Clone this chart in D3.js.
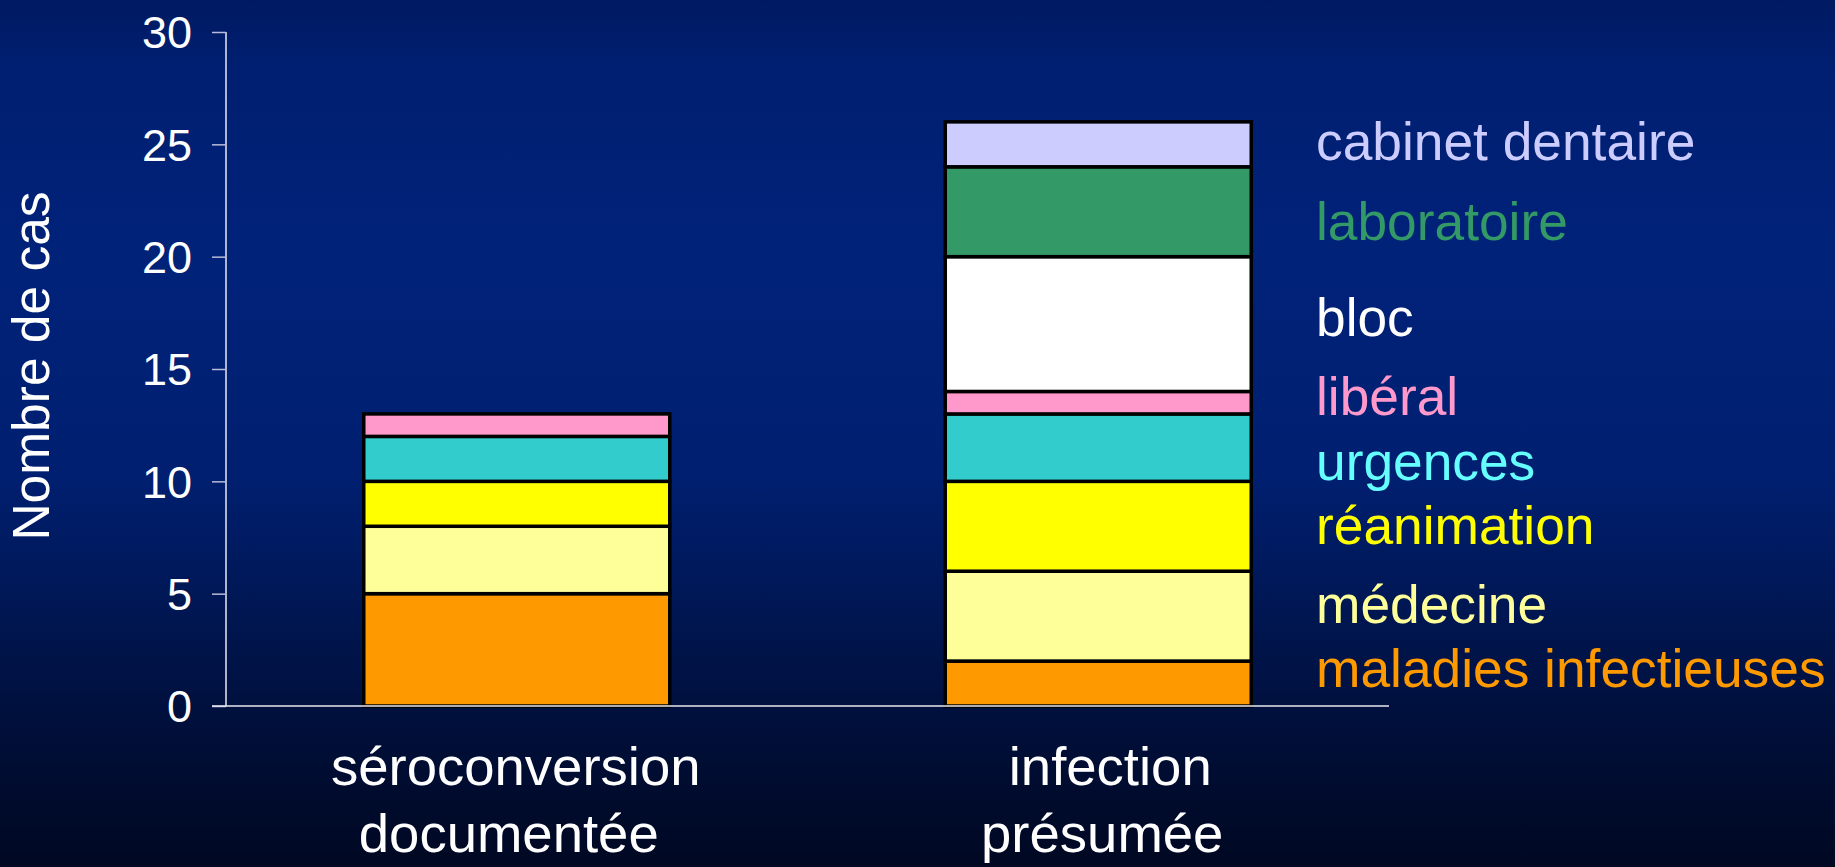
<!DOCTYPE html>
<html>
<head>
<meta charset="utf-8">
<script src="https://cdn.jsdelivr.net/npm/d3@7"></script>
<style>
  html, body { margin: 0; padding: 0; background: #001a5e; }
  svg { display: block; }
  text { font-family: "Liberation Sans", Arial, sans-serif; }
</style>
</head>
<body>
<svg id="chart" width="1835" height="867"></svg>
<script>
// ---- data ----
const categories = ["séroconversion documentée", "infection présumée"];
const categoryLines = [["séroconversion", "documentée"], ["infection", "présumée"]];
const seriesNames = ["maladies infectieuses", "médecine", "réanimation", "urgences", "libéral", "bloc", "laboratoire", "cabinet dentaire"];
const maladiesInfectieuses = [5, 2];
const medecine = [3, 4];
const reanimation = [2, 4];
const urgences = [2, 3];
const liberal = [1, 1];
const bloc = [0, 6];
const laboratoire = [0, 4];
const cabinetDentaire = [0, 2];
const yTicks = [0, 5, 10, 15, 20, 25, 30];
const barColors = ["#FF9900", "#FFFF99", "#FFFF00", "#33CCCC", "#FF99CC", "#FFFFFF", "#339966", "#CCCCFF"];
const legendColors = ["#FF9900", "#FFFF99", "#FFFF00", "#66FFFF", "#FF99CC", "#FFFFFF", "#339966", "#CCCCFF"];

const seriesValues = [maladiesInfectieuses, medecine, reanimation, urgences, liberal, bloc, laboratoire, cabinetDentaire];

// ---- layout ----
const svg = d3.select("#chart");
const W = 1835, H = 867;

const defs = svg.append("defs");
const grad = defs.append("linearGradient").attr("id", "bg").attr("x1", 0).attr("y1", 0).attr("x2", 0).attr("y2", 1);
[[0, "#001a62"], [0.08, "#001f72"], [0.3, "#002279"], [0.55, "#001f70"], [0.75, "#00144a"], [0.9, "#000c30"], [1, "#000822"]]
  .forEach(([o, c]) => grad.append("stop").attr("offset", o).attr("stop-color", c));
svg.append("rect").attr("width", W).attr("height", H).attr("fill", "url(#bg)");

const x = d3.scaleBand().domain(categories).range([226, 1389]).paddingInner(0.4738).paddingOuter(0.2369);
const y = d3.scaleLinear().domain([0, 30]).range([706, 32]);

// stacked data
const rows = categories.map((c, i) => {
  const r = { cat: c };
  seriesNames.forEach((s, j) => r[s] = seriesValues[j][i]);
  return r;
});
const stack = d3.stack().keys(seriesNames)(rows);

const g = svg.append("g");
stack.forEach((layer, j) => {
  g.selectAll(null).data(layer.filter(d => d[1] - d[0] > 0)).enter().append("rect")
    .attr("x", d => x(d.data.cat))
    .attr("width", x.bandwidth())
    .attr("y", d => y(d[1]))
    .attr("height", d => y(d[0]) - y(d[1]))
    .attr("fill", barColors[j])
    .attr("stroke", "#000")
    .attr("stroke-width", 3.5);
});

// y axis
const yAxis = d3.axisLeft(y).tickValues(yTicks).tickSize(14).tickPadding(20);
const ya = svg.append("g").attr("transform", "translate(226,0)").call(yAxis);
ya.select(".domain").attr("stroke", "#e8e8f0").attr("stroke-width", 1.5).attr("d", `M0,${y(30)}V${y(0)}`);
ya.selectAll(".tick line").attr("stroke", "#b8bcd8").attr("stroke-width", 1.5);
ya.selectAll(".tick text").attr("fill", "#fff").attr("font-size", 45).attr("dy", "0.35em")
  .attr("font-family", "'Liberation Sans', Arial, sans-serif");

// x axis line
svg.append("line").attr("x1", 212).attr("x2", 1389).attr("y1", y(0)).attr("y2", y(0))
  .attr("stroke", "#e8e8f0").attr("stroke-width", 1.5);

// category labels
const catDx = [[-1, -8], [12, 4]];
categories.forEach((c, i) => {
  categoryLines[i].forEach((line, k) => {
    svg.append("text")
      .attr("x", x(c) + x.bandwidth() / 2 + catDx[i][k])
      .attr("y", 785 + k * 67)
      .attr("text-anchor", "middle")
      .attr("fill", "#fff")
      .attr("font-size", 54.5)
      .text(line);
  });
});

// y axis title
svg.append("text")
  .attr("transform", "translate(49,366) rotate(-90)")
  .attr("text-anchor", "middle")
  .attr("fill", "#fff")
  .attr("font-size", 51.5)
  .text("Nombre de cas");

// legend labels (right side)
const legendBaselines = [687, 623, 544, 480, 415, 336, 240, 160];
seriesNames.forEach((s, j) => {
  svg.append("text")
    .attr("x", 1316)
    .attr("y", legendBaselines[j])
    .attr("fill", legendColors[j])
    .attr("font-size", 53.3)
    .text(s);
});
</script>
</body>
</html>
